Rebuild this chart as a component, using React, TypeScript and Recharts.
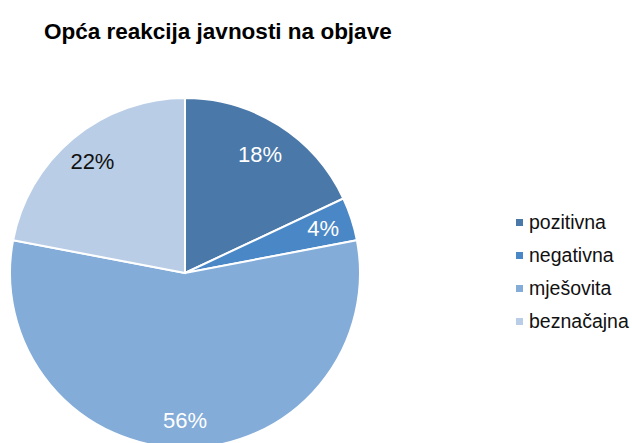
import React from "react";
import { PieChart, Pie, Cell, Legend } from "recharts";

const categories = ["pozitivna", "negativna", "mješovita", "beznačajna"];
const values = [18, 4, 56, 22];
const colors = ["#4a78a9", "#4a87c6", "#83acd9", "#b9cde6"];
const labelColors = ["#ffffff", "#ffffff", "#ffffff", "#111111"];
const title = "Opća reakcija javnosti na objave";

const data = categories.map((name, i) => ({ name, value: values[i] }));

const RAD = Math.PI / 180;
const labelRadius = [0.8, 0.83, 0.84, 0.83];

const renderLabel = (props: any) => {
  const { cx, cy, midAngle, outerRadius, index, value } = props;
  const r = outerRadius * labelRadius[index];
  const x = cx + r * Math.cos(-midAngle * RAD);
  const y = cy + r * Math.sin(-midAngle * RAD);
  return (
    <text
      x={x}
      y={y}
      fill={labelColors[index]}
      textAnchor="middle"
      dominantBaseline="central"
      fontFamily="Liberation Sans, Arial, sans-serif"
      fontSize={22}
    >
      {`${value}%`}
    </text>
  );
};

const renderLegend = () => (
  <div style={{ fontFamily: "Liberation Sans, Arial, sans-serif", fontSize: 19.5, color: "#111" }}>
    {categories.map((c, i) => (
      <div key={c} style={{ display: "flex", alignItems: "center", height: 33 }}>
        <span
          style={{
            display: "inline-block",
            width: 7,
            height: 7,
            background: colors[i],
            marginRight: 6,
          }}
        />
        <span>{c}</span>
      </div>
    ))}
  </div>
);

export default function App() {
  return (
    <div style={{ position: "absolute", left: 0, top: 0, width: 632, height: 443, background: "#fff", overflow: "hidden" }}>
      <div
        style={{
          position: "absolute",
          left: 44,
          top: 19,
          fontFamily: "Liberation Sans, Arial, sans-serif",
          fontWeight: "bold",
          fontSize: 22.5,
          color: "#000",
          whiteSpace: "nowrap",
        }}
      >
        {title}
      </div>
      <PieChart width={632} height={443} style={{ position: "absolute", left: 0, top: 0 }}>
        <Pie
          data={data}
          dataKey="value"
          nameKey="name"
          cx={180}
          cy={268}
          outerRadius={175}
          startAngle={90}
          endAngle={-270}
          stroke="#ffffff"
          strokeWidth={2}
          label={renderLabel}
          labelLine={false}
          isAnimationActive={false}
        >
          {data.map((d, i) => (
            <Cell key={d.name} fill={colors[i]} />
          ))}
        </Pie>
        <Legend
          layout="vertical"
          content={renderLegend}
          wrapperStyle={{ position: "absolute", left: 516, top: 206, width: 120 }}
        />
      </PieChart>
    </div>
  );
}
